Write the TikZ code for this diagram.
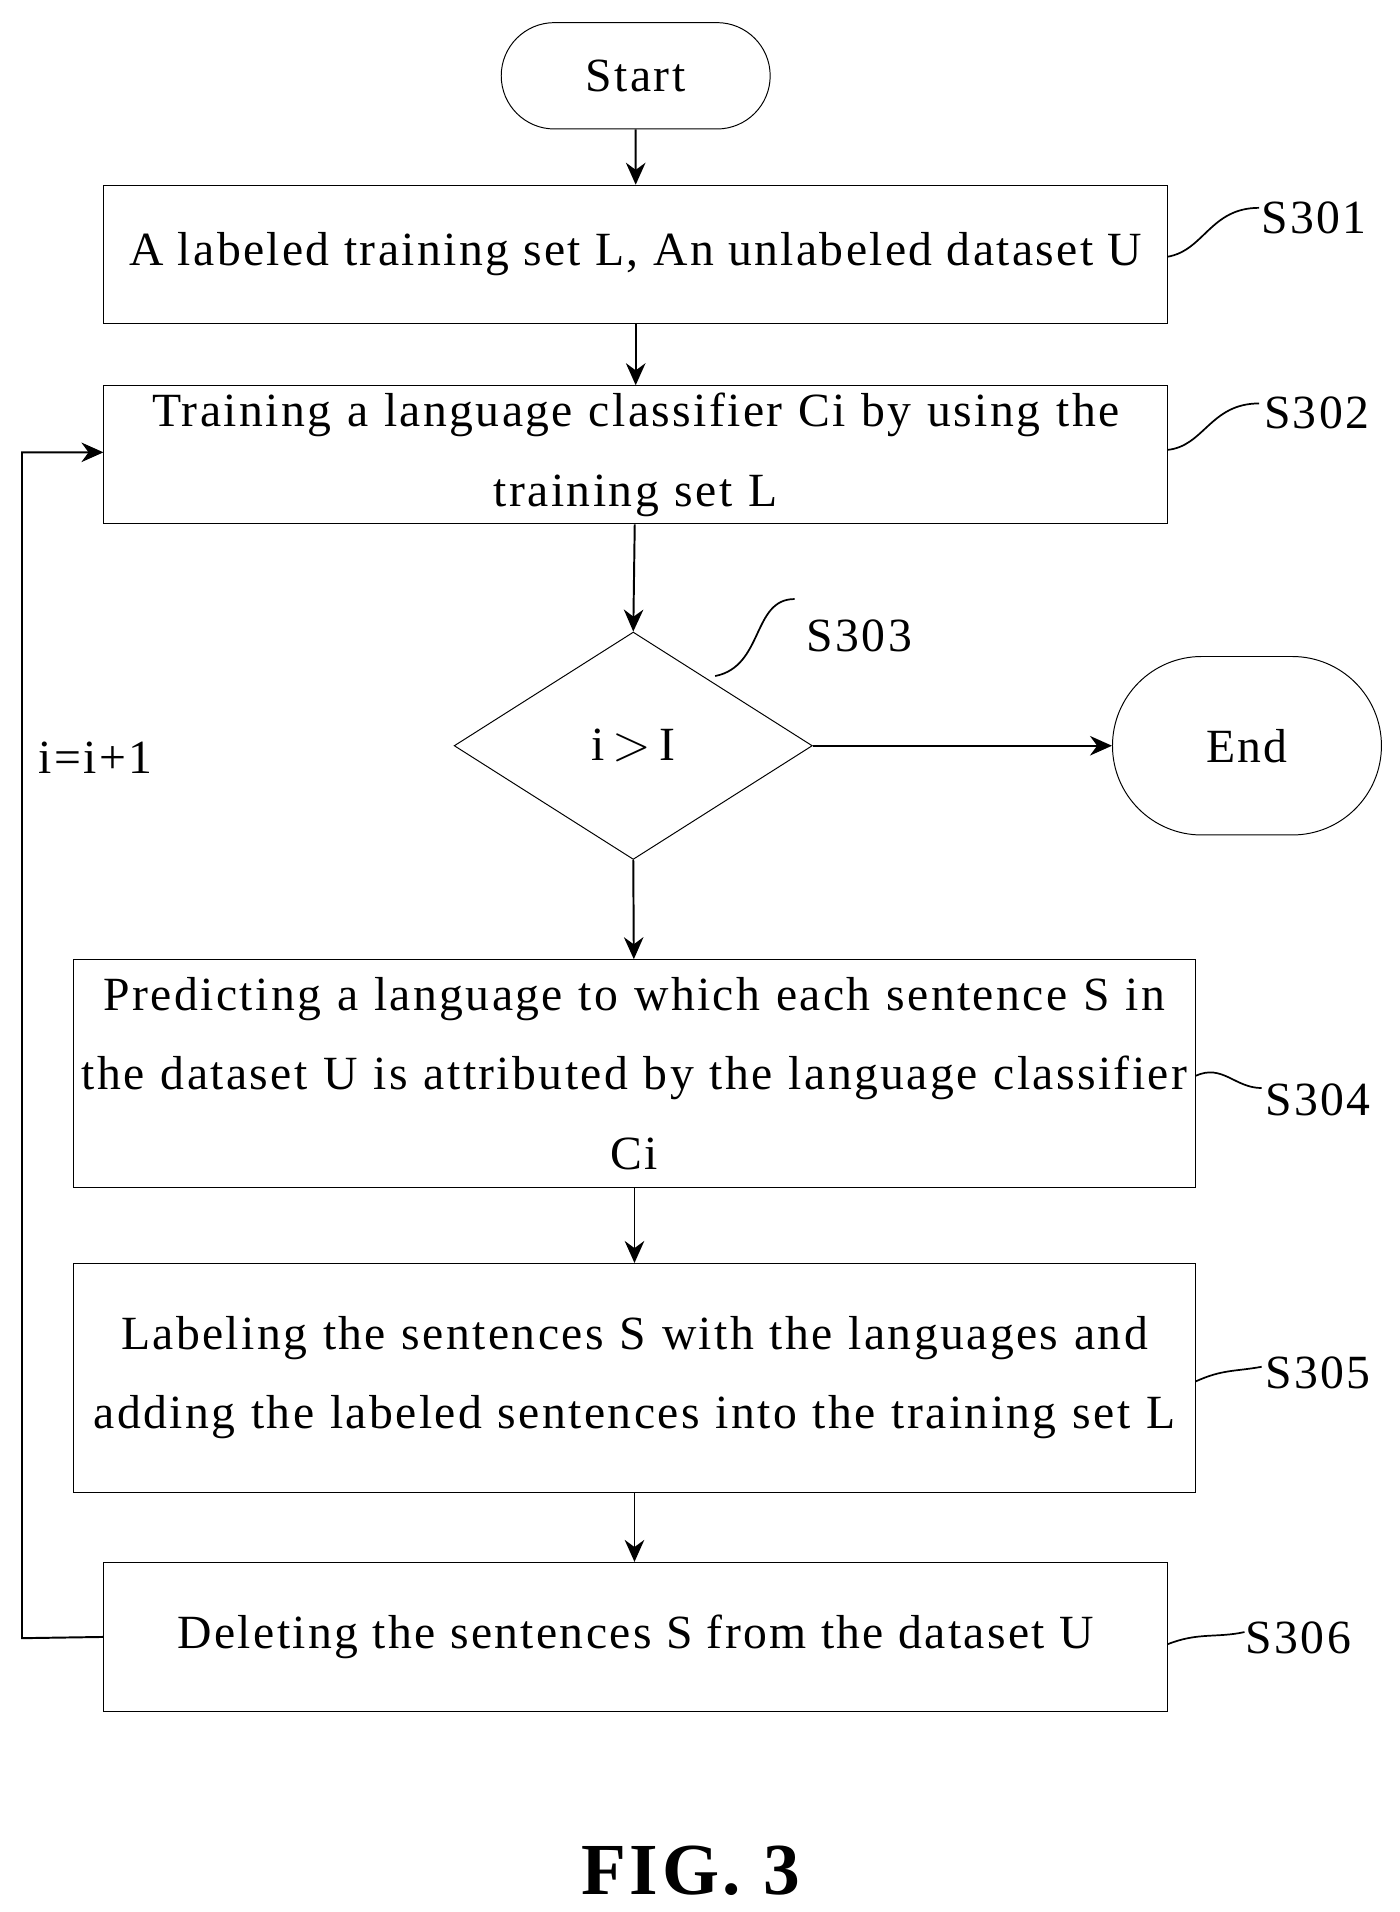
\documentclass[tikz,border=0pt]{standalone}
\usepackage{fontspec}
\setmainfont[LetterSpace=5]{Liberation Serif}
\usetikzlibrary{shapes.geometric,shapes.misc,arrows.meta}
\begin{document}
\begin{tikzpicture}[x=0.5pt,y=-0.5pt,
  every node/.style={font=\fontsize{19.5}{32.5}\selectfont},
  box/.style={draw,rectangle,align=center,inner sep=0pt},
  term/.style={draw,rounded rectangle,inner sep=0pt},
  arr/.style={-{Stealth[length=9pt,width=8pt]},line width=0.8pt},
  lbl/.style={line width=0.7pt}]
\useasboundingbox (0,0) rectangle (1145,1564);
\node[term,minimum width=110pt,minimum height=43.5pt] (start) at (520,62) {Start};
\node[box,minimum width=435pt,minimum height=56.5pt] (s1) at (520,208) {A labeled training set L, An unlabeled dataset U};
\node[box,minimum width=435pt,minimum height=56.5pt,text width=430pt] (s2) at (520,372) {Training a language classifier Ci by using the\\training set L};
\node[draw,diamond,aspect=1.58,minimum width=146.5pt,minimum height=93pt,inner sep=0pt] (d) at (518,610) {i\,$>$\,I};
\node[term,minimum width=110pt,minimum height=73pt] (end) at (1020,610) {End};
\node[box,minimum width=459pt,minimum height=93pt,text width=455pt] (s4) at (519,878) {Predicting a language to which each sentence S in\\the dataset U is attributed by the language classifier\\Ci};
\node[box,minimum width=459pt,minimum height=93.5pt,text width=455pt] (s5) at (519,1127) {Labeling the sentences S with the languages and\\adding the labeled sentences into the training set L};
\node[box,minimum width=435pt,minimum height=61pt] (s6) at (520,1339) {Deleting the sentences S from the dataset U};
\draw[arr] (start) -- (s1);
\draw[arr] (s1) -- (s2);
\draw[arr] (s2) -- (d.north);
\draw[arr] (d.east) -- (end);
\draw[arr] (d.south) -- (s4);
\draw[arr] (s4.south -| 519,0) -- (s5.north -| 519,0);
\draw[arr] (s5.south -| 519,0) -- (s6.north -| 519,0);
\coordinate (c1) at (18,1340);
\coordinate (c2) at (18,370);
\draw[arr] (s6.west) -- (c1) -- (c2) -- (s2.west |- c2);
\node (inc) at (78,620) {i=i+1};
\node (l1) at (1075,178) {S301};
\node (l2) at (1077,338) {S302};
\node (l3) at (703,520) {S303};
\node (l4) at (1078,900) {S304};
\node (l5) at (1078,1123) {S305};
\node (l6) at (1062,1340) {S306};
\draw[lbl] (955,210) .. controls (985,205) and (990,170) .. (1030,170);
\draw[lbl] (955,368) .. controls (985,365) and (990,330) .. (1030,330);
\draw[lbl] (585,553) .. controls (625,545) and (615,490) .. (650,490);
\draw[lbl] (978,880) .. controls (1000,870) and (1010,890) .. (1032,890);
\draw[lbl] (978,1130) .. controls (1000,1120) and (1010,1122) .. (1032,1118);
\draw[lbl] (955,1345) .. controls (980,1335) and (995,1340) .. (1018,1335);
\node[font=\fontsize{30}{36}\selectfont\bfseries] (fig) at (565,1530) {FIG. 3};
\end{tikzpicture}
\end{document}
